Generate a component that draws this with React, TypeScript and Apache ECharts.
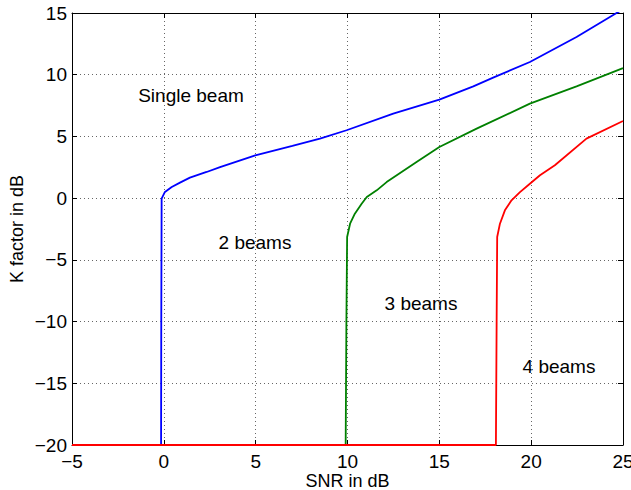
import React, { useEffect, useRef } from "react";
import * as echarts from "echarts";

const xTicks = { min: -5, max: 25, interval: 5 };
const yTicks = { min: -20, max: 15, interval: 5 };

const singleX = [-5, -0.15, -0.14, -0.12, 0.06, 0.43, 0.88, 1.42, 2.33, 3.06, 4.98, 7, 8.5, 9.95, 12.49, 15, 16.85, 17.93, 19.93, 22.47, 24.65, 25];
const singleY = [-20, -20, -10, -0.04, 0.5, 0.9, 1.26, 1.66, 2.12, 2.52, 3.47, 4.24, 4.82, 5.5, 6.85, 7.98, 9.06, 9.77, 11.03, 13.06, 15, 15.3];

const twoX = [-5, 9.9, 9.94, 9.98, 10.14, 10.4, 10.77, 11.05, 11.59, 12.13, 13.76, 15, 17.03, 19.93, 22.47, 25];
const twoY = [-20, -20, -10, -3.15, -2.07, -1.26, -0.45, 0.09, 0.63, 1.3, 2.93, 4.14, 5.63, 7.66, 9.06, 10.54];

const threeX = [-5, 18.08, 18.12, 18.15, 18.3, 18.57, 18.93, 19.39, 19.93, 20.48, 21.29, 23.01, 25];
const threeY = [-20, -20, -10, -3.15, -2.07, -0.99, -0.18, 0.49, 1.17, 1.85, 2.66, 4.82, 6.25];

const annotations = ["Single beam", "2 beams", "3 beams", "4 beams"];
const xName = "SNR in dB";
const yName = "K factor in dB";

const FONT = "'Liberation Sans', Arial, Helvetica, sans-serif";

const zip = (xs: number[], ys: number[]) => xs.map((x, i) => [x, ys[i]]);
const minus = (v: number) => String(v).replace("-", "\u2212");

export default function App() {
  const ref = useRef<HTMLDivElement>(null);
  useEffect(() => {
    document.body.style.margin = "0";
    if (!ref.current) return;
    const chart = echarts.init(ref.current, undefined, { renderer: "svg" });
    const axisLine = { show: true, onZero: false, lineStyle: { color: "#000", width: 1 } };
    const tick = { show: true, inside: true, length: 5, lineStyle: { color: "#000" } };
    const labelStyle = { color: "#000", fontSize: 19, fontFamily: FONT };
    const grid = { show: true, lineStyle: { color: "#666", type: [1, 3], width: 1 } };
    const annPos = [
      [191, 95],
      [255, 242],
      [421, 303],
      [559, 366],
    ];
    chart.setOption({
      animation: false,
      backgroundColor: "#fff",
      grid: { left: 72, right: 8, top: 13, bottom: 45, containLabel: false, outerBoundsMode: "none" },
      xAxis: [
        {
          type: "value",
          ...xTicks,
          position: "bottom",
          axisLine,
          axisTick: tick,
          splitLine: grid,
          axisLabel: { ...labelStyle, margin: 7, formatter: minus },
          name: xName,
          nameLocation: "middle",
          nameGap: 27,
          nameMoveOverlap: false,
          nameTextStyle: { color: "#000", fontSize: 18, fontFamily: FONT, lineHeight: 18 },
        },
        {
          type: "value",
          ...xTicks,
          position: "top",
          axisLine,
          axisTick: tick,
          splitLine: { show: false },
          axisLabel: { show: false },
        },
      ],
      yAxis: [
        {
          type: "value",
          ...yTicks,
          position: "left",
          axisLine,
          axisTick: tick,
          splitLine: grid,
          axisLabel: { ...labelStyle, margin: 5, formatter: minus },
          name: yName,
          nameLocation: "middle",
          nameGap: 46,
          nameMoveOverlap: false,
          nameTextStyle: { color: "#000", fontSize: 18, fontFamily: FONT, lineHeight: 18 },
        },
        {
          type: "value",
          ...yTicks,
          position: "right",
          axisLine,
          axisTick: tick,
          splitLine: { show: false },
          axisLabel: { show: false },
        },
      ],
      series: [
        { type: "line", data: zip(singleX, singleY), color: "#0000ff" },
        { type: "line", data: zip(twoX, twoY), color: "#008000" },
        { type: "line", data: zip(threeX, threeY), color: "#ff0000" },
      ].map((s) => ({
        ...s,
        showSymbol: false,
        symbol: "none",
        clip: true,
        lineStyle: { width: 1.8, color: s.color },
      })),
      graphic: annotations.map((t, i) => ({
        type: "text",
        x: annPos[i][0],
        y: annPos[i][1],
        style: {
          text: t,
          align: "center",
          verticalAlign: "middle",
          fontSize: 19,
          fontFamily: FONT,
          fill: "#000",
        },
      })),
    });
    return () => chart.dispose();
  }, []);
  return <div ref={ref} style={{ width: 631, height: 490 }} />;
}
